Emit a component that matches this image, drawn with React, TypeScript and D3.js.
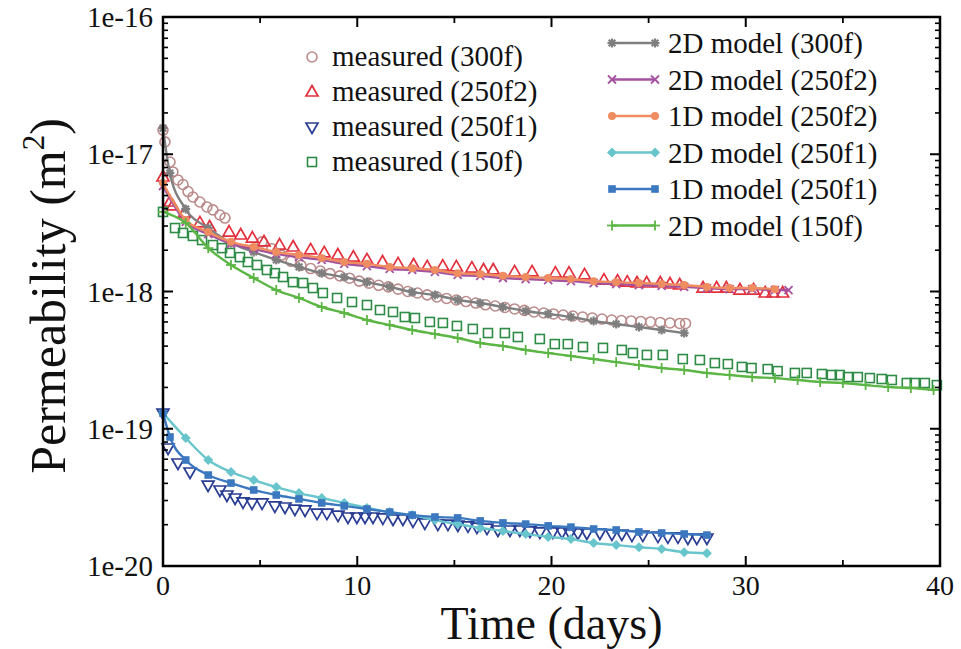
import React from "react";
import * as d3 from "d3";

// ---------- data ----------
const xTicks = [0, 10, 20, 30, 40];
const xMinorTicks = [5, 15, 25, 35];
const yTickValues = [1e-20, 1e-19, 1e-18, 1e-17, 1e-16];
const yTickLabels = ["1e-20", "1e-19", "1e-18", "1e-17", "1e-16"];

// measured (300f)
const m300fDays = [0, 0.1, 0.36, 0.51, 0.77, 1.03, 1.29, 1.54, 1.9, 2.26, 2.57, 2.93, 3.19,
  5.1, 5.6, 6.1, 6.6, 7.1, 7.6, 8.1, 8.6, 9.1, 9.6, 10.1, 10.6, 11.1, 11.6, 12.1, 12.6, 13.1, 13.6,
  14.1, 14.6, 15.1, 15.6, 16.1, 16.6, 17.1, 17.6, 18.1, 18.6, 19.1, 19.6, 20.1, 20.6, 21.1, 21.6,
  22.1, 22.6, 23.1, 23.6, 24.1, 24.6, 25.1, 25.6, 26.1, 26.6, 26.9];
const m300fVals = [15.0e-18, 12.3e-18, 8.78e-18, 7.43e-18, 6.5e-18, 6.02e-18, 5.35e-18, 4.88e-18, 4.49e-18, 4.13e-18, 3.93e-18, 3.61e-18, 3.43e-18,
  2.3e-18, 2.05e-18, 1.84e-18, 1.66e-18, 1.55e-18, 1.47e-18, 1.41e-18, 1.35e-18, 1.3e-18, 1.25e-18, 1.19e-18, 1.15e-18, 1.11e-18, 1.08e-18, 1.04e-18, 1.0e-18, 0.975e-18, 0.945e-18,
  0.912e-18, 0.89e-18, 0.867e-18, 0.845e-18, 0.824e-18, 0.8e-18, 0.784e-18, 0.765e-18, 0.746e-18, 0.728e-18, 0.709e-18, 0.697e-18, 0.686e-18, 0.674e-18, 0.663e-18, 0.652e-18,
  0.641e-18, 0.63e-18, 0.62e-18, 0.615e-18, 0.61e-18, 0.605e-18, 0.6e-18, 0.595e-18, 0.59e-18, 0.585e-18, 0.585e-18];

// measured (250f2)
const m250f2Days = [0, 0.36, 0.5, 1.1, 1.9, 2.4, 3.4, 4, 4.6, 5.2, 6.0, 6.7, 7.6, 8.3, 9, 9.8, 10.5, 11.3, 12.1, 12.9, 13.6,
  14.4, 15.1, 15.9, 16.5, 17, 18.1, 19, 20.2, 20.9, 21.7, 22.7, 23.4, 23.9, 24.4, 24.9, 25.6, 26.1, 26.6, 27.8, 28.5, 29,
  29.7, 30.4, 31, 31.4, 31.9];
const m250f2Vals = [6.83e-18, 4.49e-18, 4.2e-18, 3.73e-18, 3.16e-18, 2.95e-18, 2.71e-18, 2.58e-18, 2.45e-18, 2.3e-18, 2.18e-18, 2.11e-18, 2.01e-18, 1.91e-18, 1.845e-18, 1.78e-18, 1.7e-18, 1.64e-18, 1.59e-18, 1.56e-18, 1.51e-18,
  1.53e-18, 1.51e-18, 1.48e-18, 1.435e-18, 1.435e-18, 1.39e-18, 1.39e-18, 1.36e-18, 1.36e-18, 1.32e-18, 1.21e-18, 1.19e-18, 1.17e-18, 1.153e-18, 1.153e-18, 1.153e-18, 1.134e-18, 1.115e-18, 1.06e-18, 1.06e-18, 1.06e-18,
  1.025e-18, 1.025e-18, 0.975e-18, 0.975e-18, 0.975e-18];

// measured (250f1)
const m250f1Days = [0, 0.26, 0.77, 1.39, 2.32, 2.93, 3.29, 3.71, 4.12, 4.58, 5.1, 5.76, 6.28, 6.79, 7.31, 7.93, 8.44, 9.01, 9.52, 9.98,
  10.4, 10.81, 11.32, 11.84, 12.35, 12.87, 13.48, 14.15, 14.67, 15.18, 15.7, 16.16, 16.68, 17.24, 17.86, 18.37, 18.89, 19.4, 20.07, 20.54,
  20.95, 21.36, 21.82, 22.49, 23.11, 23.62, 24.14, 24.7, 25.48, 25.99, 26.51, 27.02, 27.48, 28.0];
const m250f1Vals = [13.0e-20, 7.24e-20, 5.63e-20, 4.84e-20, 3.89e-20, 3.58e-20, 3.29e-20, 3.13e-20, 2.93e-20, 2.88e-20, 2.88e-20, 2.74e-20, 2.69e-20, 2.6e-20, 2.56e-20, 2.43e-20, 2.43e-20, 2.35e-20, 2.275e-20, 2.275e-20,
  2.275e-20, 2.275e-20, 2.24e-20, 2.2e-20, 2.2e-20, 2.13e-20, 2.06e-20, 2.02e-20, 2.02e-20, 1.99e-20, 1.96e-20, 1.92e-20, 1.89e-20, 1.83e-20, 1.83e-20, 1.83e-20, 1.8e-20, 1.77e-20, 1.77e-20, 1.77e-20,
  1.74e-20, 1.74e-20, 1.74e-20, 1.74e-20, 1.71e-20, 1.71e-20, 1.68e-20, 1.68e-20, 1.65e-20, 1.63e-20, 1.63e-20, 1.6e-20, 1.6e-20, 1.6e-20];

// measured (150f)
const m150fDays = [0, 0.62, 1.03, 1.54, 2.01, 2.57, 3.04, 3.45, 3.96, 4.37, 4.84, 5.35, 5.76, 6.18, 6.69, 7.21, 7.72, 8.23, 8.96, 9.73,
  10.5, 11.17, 11.84, 12.45, 12.97, 13.74, 14.41, 15.13, 15.95, 16.73, 17.6, 18.27, 19.4, 20.17, 20.84, 21.62, 22.65, 23.62, 24.19, 24.91,
  25.73, 26.76, 27.64, 28.41, 29.08, 29.8, 30.3, 31.13, 31.64, 32.53, 33.14, 33.92, 34.43, 34.84, 35.26, 35.77, 36.39, 37.0, 37.52, 38.29,
  38.7, 39.22, 39.84];
const m150fVals = [3.8e-18, 2.9e-18, 2.67e-18, 2.54e-18, 2.37e-18, 2.18e-18, 2.07e-18, 1.91e-18, 1.78e-18, 1.64e-18, 1.56e-18, 1.435e-18, 1.36e-18, 1.275e-18, 1.17e-18, 1.153e-18, 1.06e-18, 0.975e-18, 0.897e-18, 0.838e-18,
  0.797e-18, 0.733e-18, 0.709e-18, 0.652e-18, 0.641e-18, 0.6e-18, 0.59e-18, 0.561e-18, 0.533e-18, 0.498e-18, 0.498e-18, 0.466e-18, 0.451e-18, 0.414e-18, 0.414e-18, 0.394e-18, 0.388e-18, 0.375e-18, 0.356e-18, 0.345e-18,
  0.345e-18, 0.322e-18, 0.317e-18, 0.301e-18, 0.296e-18, 0.282e-18, 0.277e-18, 0.272e-18, 0.263e-18, 0.255e-18, 0.255e-18, 0.2505e-18, 0.2464e-18, 0.2464e-18, 0.238e-18, 0.238e-18, 0.234e-18, 0.2304e-18, 0.2266e-18, 0.2154e-18,
  0.2154e-18, 0.2154e-18, 0.208e-18];

// 2D model (300f)
const d2300fDays = [0, 0.35, 1.17, 2.33, 3.5, 4.67, 5.83, 7, 8.17, 9.33, 10.5, 11.67, 12.83, 14, 15.17, 16.33, 17.5, 18.67, 19.83, 21, 22.17, 23.33, 24.5, 25.67, 26.83];
const d2300fVals = [15.5e-18, 7.3e-18, 3.99e-18, 2.9e-18, 2.26e-18, 1.94e-18, 1.7e-18, 1.51e-18, 1.36e-18, 1.275e-18, 1.17e-18, 1.08e-18, 0.99e-18, 0.943e-18, 0.867e-18, 0.824e-18, 0.771e-18, 0.721e-18, 0.686e-18, 0.652e-18, 0.61e-18, 0.58e-18, 0.551e-18, 0.524e-18, 0.498e-18];

// 2D model (250f2)
const d2250f2Days = [0, 1.17, 2.33, 3.5, 4.67, 5.83, 7, 8.17, 9.33, 10.5, 11.67, 12.83, 14, 15.17, 16.33, 17.5, 18.67, 19.83, 21, 22.17, 23.33, 24.5, 25.67, 26.83, 28, 29.17, 30.33, 31.5, 32.2];
const d2250f2Vals = [5.87e-18, 3.21e-18, 2.62e-18, 2.22e-18, 2.04e-18, 1.88e-18, 1.78e-18, 1.7e-18, 1.59e-18, 1.53e-18, 1.46e-18, 1.435e-18, 1.39e-18, 1.32e-18, 1.3e-18, 1.254e-18, 1.233e-18, 1.21e-18, 1.19e-18, 1.153e-18, 1.134e-18, 1.115e-18, 1.097e-18, 1.08e-18, 1.06e-18, 1.04e-18, 1.04e-18, 1.025e-18, 1.025e-18];

// 1D model (250f2)
const d1250f2Days = [0, 1.17, 2.33, 3.5, 4.67, 5.83, 7, 8.17, 9.33, 10.5, 11.67, 12.83, 14, 15.17, 16.33, 17.5, 18.67, 19.83, 21, 22.17, 23.33, 24.5, 25.67, 26.83, 28, 29.17, 30.33, 31.5];
const d1250f2Vals = [6.17e-18, 3.32e-18, 2.71e-18, 2.3e-18, 2.11e-18, 1.94e-18, 1.845e-18, 1.754e-18, 1.64e-18, 1.59e-18, 1.51e-18, 1.48e-18, 1.435e-18, 1.36e-18, 1.34e-18, 1.3e-18, 1.275e-18, 1.254e-18, 1.233e-18, 1.19e-18, 1.17e-18, 1.153e-18, 1.134e-18, 1.115e-18, 1.08e-18, 1.06e-18, 1.06e-18, 1.04e-18];

// 2D model (250f1)
const d2250f1Days = [0, 1.17, 2.33, 3.5, 4.67, 5.83, 7, 8.17, 9.33, 10.5, 11.67, 12.83, 14, 15.17, 16.33, 17.5, 18.67, 19.83, 21, 22.17, 23.33, 24.5, 25.67, 26.83, 28];
const d2250f1Vals = [13.0e-20, 8.56e-20, 5.92e-20, 4.84e-20, 4.23e-20, 3.76e-20, 3.4e-20, 3.13e-20, 2.88e-20, 2.65e-20, 2.47e-20, 2.35e-20, 2.16e-20, 2.02e-20, 1.89e-20, 1.8e-20, 1.71e-20, 1.63e-20, 1.57e-20, 1.47e-20, 1.42e-20, 1.37e-20, 1.33e-20, 1.26e-20, 1.24e-20];

// 1D model (250f1)
const d1250f1Days = [0, 0.36, 1.17, 2.33, 3.5, 4.67, 5.83, 7, 8.17, 9.33, 10.5, 11.67, 12.83, 14, 15.17, 16.33, 17.5, 18.67, 19.83, 21, 22.17, 23.33, 24.5, 25.67, 26.83, 28];
const d1250f1Vals = [13.0e-20, 8.71e-20, 5.92e-20, 4.6e-20, 4.02e-20, 3.58e-20, 3.29e-20, 3.08e-20, 2.88e-20, 2.74e-20, 2.6e-20, 2.47e-20, 2.35e-20, 2.275e-20, 2.24e-20, 2.13e-20, 2.06e-20, 2.02e-20, 1.96e-20, 1.92e-20, 1.86e-20, 1.83e-20, 1.77e-20, 1.74e-20, 1.71e-20, 1.68e-20];

// 2D model (150f)
const d2150fDays = [0, 1.17, 2.33, 3.5, 4.67, 5.83, 7, 8.17, 9.33, 10.5, 11.67, 12.83, 14, 15.17, 16.33, 17.5, 18.67, 19.83, 21, 22.17, 23.33, 24.5, 25.67, 26.83, 28, 29.17, 30.33, 31.5, 32.67, 33.83, 35, 36.17, 37.33, 38.5, 39.67];
const d2150fVals = [3.8e-18, 3.16e-18, 2.07e-18, 1.56e-18, 1.254e-18, 1.025e-18, 0.897e-18, 0.771e-18, 0.697e-18, 0.62e-18, 0.57e-18, 0.524e-18, 0.49e-18, 0.458e-18, 0.4215e-18, 0.401e-18, 0.375e-18, 0.356e-18, 0.339e-18, 0.322e-18, 0.306e-18, 0.291e-18, 0.277e-18, 0.268e-18, 0.255e-18, 0.2464e-18, 0.238e-18, 0.234e-18, 0.2266e-18, 0.219e-18, 0.2154e-18, 0.208e-18, 0.2015e-18, 0.198e-18, 0.1915e-18];

const measuredLabels = ["measured (300f)", "measured (250f2)", "measured (250f1)", "measured (150f)"];
const modelLabels = ["2D model (300f)", "2D model (250f2)", "1D model (250f2)", "2D model (250f1)", "1D model (250f1)", "2D model (150f)"];

// ---------- styles ----------
type MarkerKind = "circleOpen" | "triUp" | "triDown" | "squareOpen" | "asterisk" | "times" | "dot" | "diamond" | "square" | "plus";

const measured = [
  { label: measuredLabels[0], days: m300fDays, vals: m300fVals, color: "#bb8a8a", marker: "circleOpen" as MarkerKind },
  { label: measuredLabels[1], days: m250f2Days, vals: m250f2Vals, color: "#e3303c", marker: "triUp" as MarkerKind },
  { label: measuredLabels[2], days: m250f1Days, vals: m250f1Vals, color: "#2a3d94", marker: "triDown" as MarkerKind },
  { label: measuredLabels[3], days: m150fDays, vals: m150fVals, color: "#2f8c47", marker: "squareOpen" as MarkerKind },
];

const models = [
  { label: modelLabels[0], days: d2300fDays, vals: d2300fVals, color: "#7f7f7f", marker: "asterisk" as MarkerKind },
  { label: modelLabels[1], days: d2250f2Days, vals: d2250f2Vals, color: "#a4529f", marker: "times" as MarkerKind },
  { label: modelLabels[2], days: d1250f2Days, vals: d1250f2Vals, color: "#ef8c60", marker: "dot" as MarkerKind },
  { label: modelLabels[3], days: d2250f1Days, vals: d2250f1Vals, color: "#67c5cb", marker: "diamond" as MarkerKind },
  { label: modelLabels[4], days: d1250f1Days, vals: d1250f1Vals, color: "#3b78bf", marker: "square" as MarkerKind },
  { label: modelLabels[5], days: d2150fDays, vals: d2150fVals, color: "#5cb645", marker: "plus" as MarkerKind },
];

const FONT = "'Liberation Serif', 'Times New Roman', serif";

function Marker({ kind, x, y, color }: { kind: MarkerKind; x: number; y: number; color: string }) {
  switch (kind) {
    case "circleOpen":
      return <circle cx={x} cy={y} r={5} fill="none" stroke={color} strokeWidth={1.6} />;
    case "triUp":
      return <path d={`M${x},${y - 6.5}L${x + 6},${y + 4}L${x - 6},${y + 4}Z`} fill="none" stroke={color} strokeWidth={1.7} />;
    case "triDown":
      return <path d={`M${x},${y + 6.5}L${x + 6},${y - 4}L${x - 6},${y - 4}Z`} fill="none" stroke={color} strokeWidth={1.7} />;
    case "squareOpen":
      return <rect x={x - 4.5} y={y - 4.5} width={9} height={9} fill="none" stroke={color} strokeWidth={1.6} />;
    case "asterisk":
      return (
        <g stroke={color} strokeWidth={2.2}>
          <line x1={x - 4.5} y1={y} x2={x + 4.5} y2={y} />
          <line x1={x} y1={y - 4.5} x2={x} y2={y + 4.5} />
          <line x1={x - 3.3} y1={y - 3.3} x2={x + 3.3} y2={y + 3.3} />
          <line x1={x - 3.3} y1={y + 3.3} x2={x + 3.3} y2={y - 3.3} />
        </g>
      );
    case "times":
      return (
        <g stroke={color} strokeWidth={1.8}>
          <line x1={x - 4} y1={y - 4} x2={x + 4} y2={y + 4} />
          <line x1={x - 4} y1={y + 4} x2={x + 4} y2={y - 4} />
        </g>
      );
    case "dot":
      return <circle cx={x} cy={y} r={4} fill={color} />;
    case "diamond":
      return <path d={`M${x},${y - 5}L${x + 5},${y}L${x},${y + 5}L${x - 5},${y}Z`} fill={color} />;
    case "square":
      return <rect x={x - 3.8} y={y - 3.8} width={7.6} height={7.6} fill={color} />;
    case "plus":
      return (
        <g stroke={color} strokeWidth={1.8}>
          <line x1={x - 5} y1={y} x2={x + 5} y2={y} />
          <line x1={x} y1={y - 5} x2={x} y2={y + 5} />
        </g>
      );
  }
  return null;
}

export default function App() {
  const W = 961;
  const H = 649;
  const left = 163, right = 940, top = 17, bottom = 566;
  const x = d3.scaleLinear().domain([0, 40]).range([left, right]);
  const y = d3.scaleLog().domain([1e-20, 1e-16]).range([bottom, top]);

  const lineGen = d3
    .line<[number, number]>()
    .x((d) => x(d[0]))
    .y((d) => y(d[1]))
    .curve(d3.curveMonotoneX);

  const yMinor: number[] = [];
  for (let e = -20; e < -16; e++) {
    for (let k = 2; k <= 9; k++) yMinor.push(k * Math.pow(10, e));
  }

  return (
    <svg width={W} height={H} style={{ position: "absolute", left: 0, top: 0, background: "#fff" }} fontFamily={FONT}>
      <rect x={0} y={0} width={W} height={H} fill="#fff" />

      {/* measured points */}
      {measured.map((s, si) => (
        <g key={"m" + si}>
          {s.days.map((d, i) => (
            <Marker key={i} kind={s.marker} x={x(d)} y={y(s.vals[i])} color={s.color} />
          ))}
        </g>
      ))}

      {/* model lines */}
      {models.map((s, si) => {
        const pts: [number, number][] = s.days.map((d, i) => [d, s.vals[i]]);
        return (
          <g key={"l" + si}>
            <path d={lineGen(pts) || ""} fill="none" stroke={s.color} strokeWidth={2.4} />
            {pts.map((p, i) => (
              <Marker key={i} kind={s.marker} x={x(p[0])} y={y(p[1])} color={s.color} />
            ))}
          </g>
        );
      })}

      {/* frame */}
      <rect x={left} y={top} width={right - left} height={bottom - top} fill="none" stroke="#000" strokeWidth={2.5} />

      {/* x ticks */}
      {xTicks.map((t) => (
        <g key={"xt" + t}>
          <line x1={x(t)} x2={x(t)} y1={bottom} y2={bottom - 10} stroke="#000" strokeWidth={2} />
          <line x1={x(t)} x2={x(t)} y1={top} y2={top + 10} stroke="#000" strokeWidth={2} />
          <text x={x(t)} y={595} textAnchor="middle" fontSize={28} fill="#111">
            {t}
          </text>
        </g>
      ))}
      {xMinorTicks.map((t) => (
        <g key={"xm" + t}>
          <line x1={x(t)} x2={x(t)} y1={bottom} y2={bottom - 6} stroke="#000" strokeWidth={1.8} />
          <line x1={x(t)} x2={x(t)} y1={top} y2={top + 6} stroke="#000" strokeWidth={1.8} />
        </g>
      ))}

      {/* y ticks */}
      {yTickValues.map((t, i) => (
        <g key={"yt" + i}>
          <line x1={left} x2={left + 10} y1={y(t)} y2={y(t)} stroke="#000" strokeWidth={2} />
          <line x1={right} x2={right - 10} y1={y(t)} y2={y(t)} stroke="#000" strokeWidth={2} />
          <text x={153} y={y(t) + 10} textAnchor="end" fontSize={29} fill="#111">
            {yTickLabels[i]}
          </text>
        </g>
      ))}
      {yMinor.map((t, i) => (
        <g key={"ym" + i}>
          <line x1={left} x2={left + 5} y1={y(t)} y2={y(t)} stroke="#000" strokeWidth={1.6} />
          <line x1={right} x2={right - 5} y1={y(t)} y2={y(t)} stroke="#000" strokeWidth={1.6} />
        </g>
      ))}

      {/* axis titles */}
      <text x={(left + right) / 2} y={639} textAnchor="middle" fontSize={46} fill="#111">
        Time (days)
      </text>
      <text transform="translate(65,296) rotate(-90)" textAnchor="middle" fontSize={50} fill="#111">
        Permeability (m<tspan dy={-21} fontSize={31}>2</tspan>
        <tspan dy={21}>)</tspan>
      </text>

      {/* legend: measured */}
      {measured.map((s, i) => {
        const ly = 57 + i * 35;
        return (
          <g key={"lg" + i}>
            <Marker kind={s.marker} x={312} y={ly} color={s.color} />
            <text x={332} y={ly + 9} fontSize={29} fill="#111">
              {s.label}
            </text>
          </g>
        );
      })}

      {/* legend: models */}
      {models.map((s, i) => {
        const ly = 43 + i * 36.5;
        return (
          <g key={"lm" + i}>
            <line x1={612} x2={655} y1={ly} y2={ly} stroke={s.color} strokeWidth={2.4} />
            <Marker kind={s.marker} x={612} y={ly} color={s.color} />
            <Marker kind={s.marker} x={655} y={ly} color={s.color} />
            <text x={668} y={ly + 10} fontSize={29} fill="#111">
              {s.label}
            </text>
          </g>
        );
      })}
    </svg>
  );
}
